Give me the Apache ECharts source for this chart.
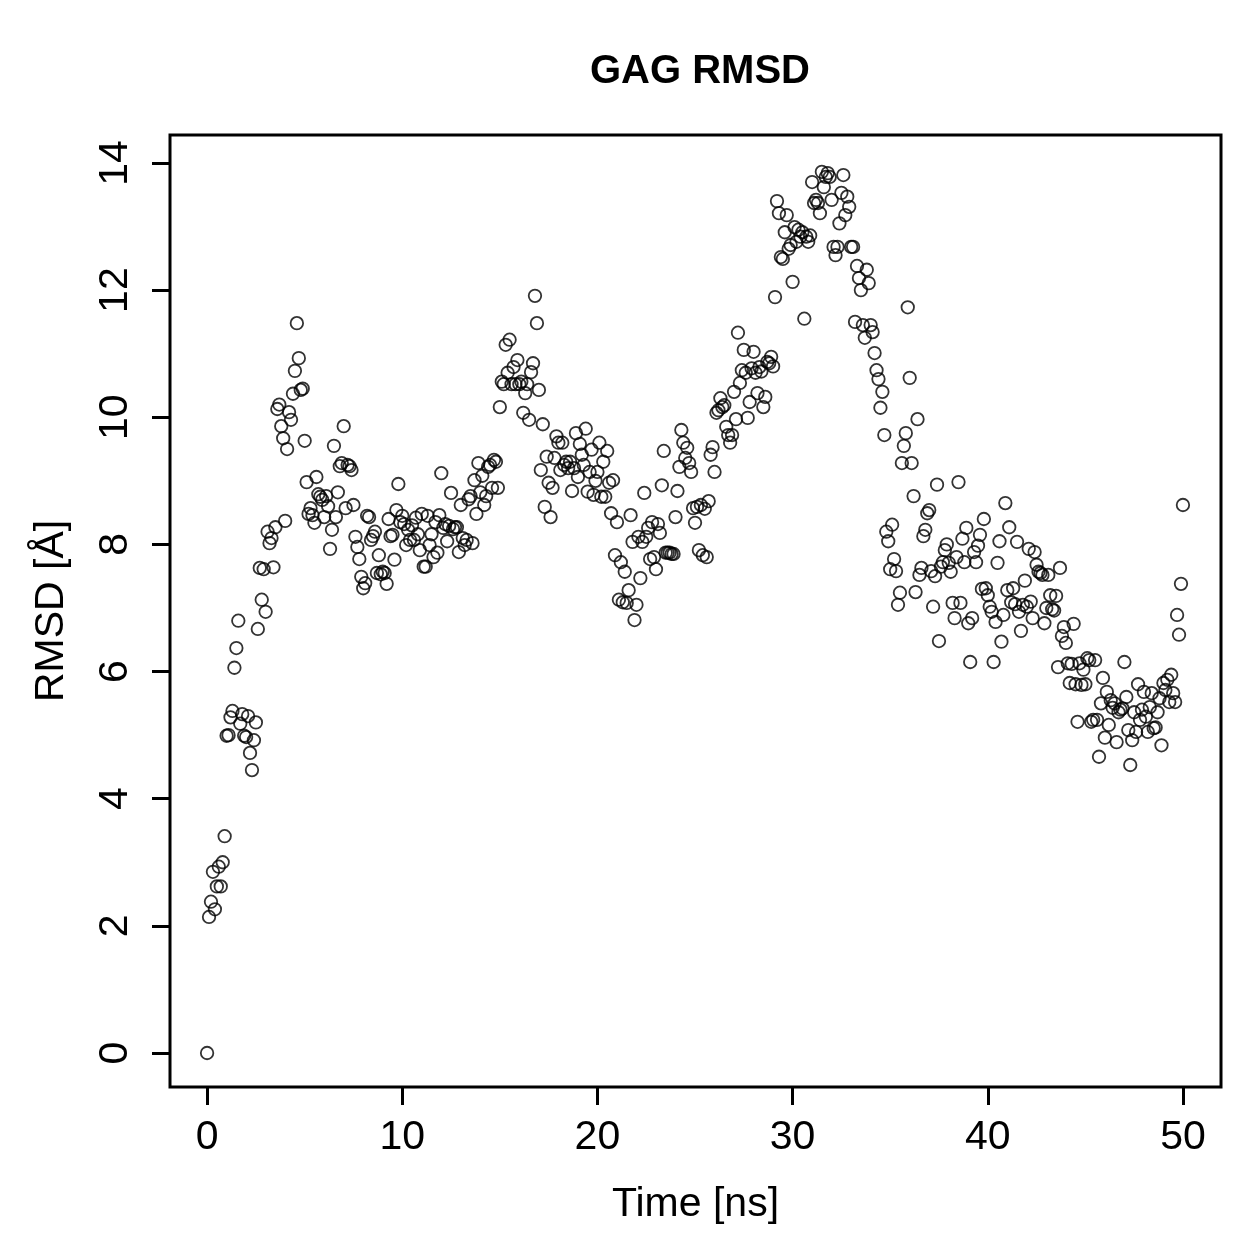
<!DOCTYPE html>
<html>
<head>
<meta charset="utf-8">
<title>GAG RMSD</title>
<script src="https://cdn.jsdelivr.net/npm/echarts@6/dist/echarts.min.js"></script>
<style>
  html, body { margin: 0; padding: 0; background: #fff; }
  #main { width: 1259px; height: 1259px; }
</style>
</head>
<body>
<div id="main"></div>
<script>
// RMSD per frame, one frame every 0.1 ns (0.0 .. 50.0 ns)
const rmsd = [
  0, 2.14, 2.38, 2.85, 2.26, 2.62, 2.93, 2.62, 3.0, 3.41,
  4.99, 5.0, 5.28, 5.38, 6.06, 6.37, 6.8, 5.18, 5.33, 4.99,
  4.97, 5.3, 4.72, 4.45, 4.92, 5.2, 6.67, 7.63, 7.13, 7.61,
  6.94, 8.2, 8.02, 8.1, 7.64, 8.27, 10.13, 10.2, 9.86, 9.67,
  8.37, 9.5, 10.08, 9.96, 10.37, 10.73, 11.48, 10.93, 10.43, 10.45,
  9.63, 8.98, 8.48, 8.57, 8.46, 8.34, 9.06, 8.79, 8.75, 8.7,
  8.43, 8.76, 8.6, 7.93, 8.23, 9.55, 8.43, 8.82, 9.23, 9.28,
  9.86, 8.57, 9.25, 9.23, 9.17, 8.62, 8.12, 7.96, 7.77, 7.49,
  7.31, 7.39, 8.45, 8.43, 8.07, 8.13, 8.2, 7.55, 7.83, 7.53,
  7.57, 7.55, 7.38, 8.4, 8.13, 8.15, 7.76, 8.54, 8.95, 8.35,
  8.45, 8.32, 7.99, 8.23, 8.07, 8.3, 8.07, 8.42, 8.16, 7.91,
  8.48, 7.65, 7.65, 8.45, 7.99, 8.16, 7.8, 8.35, 7.87, 8.46,
  9.12, 8.26, 8.32, 8.05, 8.29, 8.81, 8.24, 8.27, 8.27, 7.88,
  8.62, 8.1, 7.99, 8.07, 8.71, 8.76, 8.02, 9.01, 8.48, 9.28,
  8.82, 9.08, 8.62, 8.76, 9.22, 9.25, 8.89, 9.33, 9.3, 8.89,
  10.16, 10.56, 10.52, 11.14, 10.7, 11.22, 10.52, 10.79, 10.52, 10.9,
  10.52, 10.56, 10.07, 10.38, 10.52, 9.96, 10.71, 10.85, 11.91, 11.48,
  10.43, 9.17, 9.89, 8.59, 9.38, 8.97, 8.43, 8.89, 9.36, 9.7,
  9.6, 9.17, 9.6, 9.25, 9.3, 9.2, 9.3, 8.84, 9.2, 9.75,
  9.06, 9.58, 9.41, 9.25, 9.82, 8.83, 9.14, 9.49, 8.78, 9.0,
  9.14, 9.6, 8.75, 9.3, 8.75, 9.47, 8.97, 8.49, 9.01, 7.83,
  8.35, 7.13, 7.72, 7.09, 7.57, 7.08, 7.28, 8.46, 8.04, 6.81,
  7.05, 8.12, 7.47, 8.04, 8.81, 8.12, 8.26, 7.77, 8.35, 7.8,
  7.61, 8.32, 8.18, 8.93, 9.47, 7.87, 7.87, 7.87, 7.85, 7.85,
  8.43, 8.84, 9.22, 9.8, 9.6, 9.36, 9.52, 9.28, 9.14, 8.57,
  8.34, 8.59, 7.91, 8.62, 7.83, 8.56, 7.8, 8.68, 9.41, 9.53,
  9.14, 10.07, 10.11, 10.3, 10.16, 10.19, 9.85, 9.72, 9.6, 9.72,
  10.4, 9.97, 11.33, 10.54, 10.74, 11.06, 10.7, 9.99, 10.24, 10.77,
  11.03, 10.7, 10.38, 10.79, 10.72, 10.16, 10.32, 10.87, 10.85, 10.95,
  10.8, 11.89, 13.4, 13.21, 12.52, 12.49, 12.91, 13.18, 12.65, 12.71,
  12.13, 12.99, 12.76, 12.95, 12.84, 12.91, 11.55, 12.84, 12.76, 12.86,
  13.7, 13.37, 13.42, 13.37, 13.21, 13.86, 13.62, 13.78, 13.84, 13.78,
  13.42, 12.68, 12.55, 12.68, 13.05, 13.53, 13.81, 13.18, 13.47, 13.31,
  12.68, 12.68, 11.5, 12.38, 12.19, 12.0, 11.45, 11.25, 12.32, 12.11,
  11.45, 11.34, 11.01, 10.74, 10.6, 10.15, 10.4, 9.72, 8.2, 8.05,
  7.61, 8.31, 7.77, 7.58, 7.05, 7.24, 9.28, 9.55, 9.75, 11.73,
  10.62, 9.28, 8.76, 7.25, 9.97, 7.52, 7.63, 8.13, 8.23, 8.49,
  8.54, 7.58, 7.02, 7.5, 8.94, 6.48, 7.65, 7.72, 7.91, 8.0,
  7.71, 7.57, 7.08, 6.84, 7.8, 8.98, 7.08, 8.09, 7.72, 8.26,
  6.76, 6.15, 6.84, 7.88, 7.72, 7.98, 8.15, 7.3, 8.4, 7.31,
  7.2, 7.02, 6.94, 6.15, 6.78, 7.71, 8.05, 6.47, 6.89, 8.65,
  7.28, 8.27, 7.09, 7.31, 7.06, 8.04, 6.94, 6.64, 7.05, 7.43,
  7.02, 7.93, 7.1, 6.84, 7.88, 7.68, 7.57, 7.55, 7.52, 6.76,
  7.0, 7.52, 7.2, 6.98, 6.96, 7.19, 6.07, 7.63, 6.56, 6.7,
  6.45, 6.13, 5.82, 6.12, 6.75, 5.8, 5.21, 6.13, 5.79, 6.03,
  5.8, 6.21, 6.18, 5.21, 5.24, 6.18, 5.24, 4.66, 5.5, 5.9,
  4.96, 5.68, 5.16, 5.55, 5.43, 5.5, 4.89, 5.36, 5.4, 5.42,
  6.15, 5.6, 5.08, 4.53, 4.92, 5.36, 5.05, 5.8, 5.24, 5.4,
  5.68, 5.29, 5.05, 5.44, 5.66, 5.11, 5.12, 5.36, 5.58, 4.84,
  5.82, 5.71, 5.87, 5.52, 5.95, 5.66, 5.52, 6.89, 6.58, 7.38,
  8.62
];
const timeStep = 0.1; // ns between frames
const xTicks = [0, 10, 20, 30, 40, 50];
const yTicks = [0, 2, 4, 6, 8, 10, 12, 14];

const points = rmsd.map((v, i) => [+(i * timeStep).toFixed(1), v]);

const font = "'Liberation Sans', Arial, Helvetica, sans-serif";
const chart = echarts.init(document.getElementById("main"), null, { renderer: "canvas" });

chart.setOption({
  animation: false,
  backgroundColor: "#fff",
  title: {
    text: "GAG RMSD",
    left: 695,
    top: 47,
    textAlign: "center",
    textStyle: { fontFamily: font, fontSize: 40, fontWeight: "bold", color: "#000" },
  },
  grid: {
    left: 170,
    top: 135,
    right: 38,
    bottom: 172,
    show: true,
    borderColor: "#000",
    borderWidth: 3,
    backgroundColor: "transparent",
  },
  xAxis: {
    type: "value",
    min: -1.9,
    max: 51.95,
    name: "Time [ns]",
    nameLocation: "middle",
    nameGap: 97,
    nameTextStyle: { fontFamily: font, fontSize: 41, color: "#000" },
    axisLine: { show: false, onZero: false },
    axisTick: { show: true, length: 18, customValues: xTicks, lineStyle: { color: "#000", width: 3 } },
    axisLabel: { customValues: xTicks, margin: 30, fontFamily: font, fontSize: 41, color: "#000" },
    splitLine: { show: false },
  },
  yAxis: {
    type: "value",
    min: -0.535,
    max: 14.44,
    name: "RMSD [Å]",
    nameLocation: "middle",
    nameGap: 98,
    nameRotate: 90,
    nameTextStyle: { fontFamily: font, fontSize: 41, color: "#000" },
    axisLine: { show: false, onZero: false },
    axisTick: { show: true, length: 18, customValues: yTicks, lineStyle: { color: "#000", width: 3 } },
    axisLabel: { customValues: yTicks, rotate: 90, margin: 34, fontFamily: font, fontSize: 41, color: "#000" },
    splitLine: { show: false },
  },
  series: [
    {
      type: "scatter",
      data: points,
      symbol: "circle",
      symbolSize: 12.5,
      itemStyle: { color: "rgba(0,0,0,0)", borderColor: "#000", borderWidth: 1.8 },
      emphasis: { disabled: true },
    },
  ],
});
</script>
</body>
</html>
